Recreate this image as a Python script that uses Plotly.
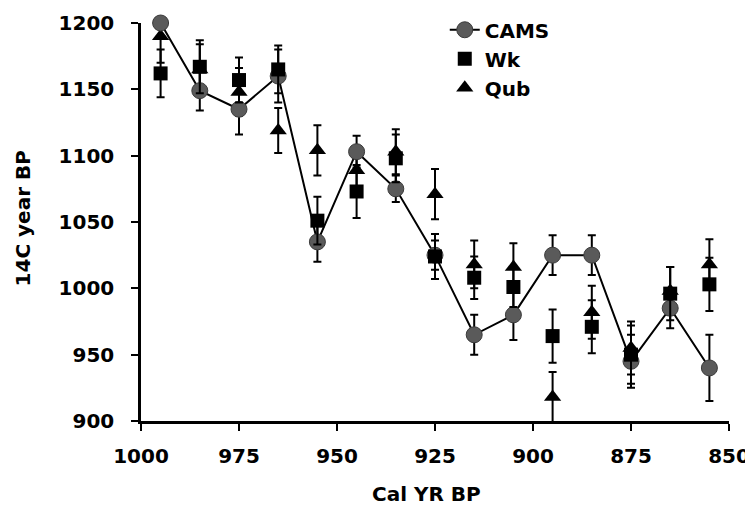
import plotly.graph_objects as go

# Data
cal_yr = [995, 985, 975, 965, 955, 945, 935, 925, 915, 905, 895, 885, 875, 865, 855]
cams = [1200, 1149, 1135, 1160, 1035, 1103, 1075, 1025, 965, 980, 1025, 1025, 945, 985, 940]
cams_err = [10, 15, 19, 20, 15, 12, 10, 11, 15, 19, 15, 15, 20, 15, 25]
wk = [1162, 1167, 1157, 1165, 1051, 1073, 1098, 1024, 1008, 1001, 964, 971, 950, 996, 1003]
wk_err = [18, 20, 17, 18, 18, 20, 18, 17, 16, 15, 20, 20, 22, 20, 20]
qub = [1190, 1165, 1148, 1119, 1104, 1089, 1103, 1071, 1018, 1016, 918, 982, 955, 998, 1018]
qub_err = [20, 19, 18, 17, 19, 15, 17, 19, 18, 18, 19, 20, 20, 18, 19]

x_ticks = [1000, 975, 950, 925, 900, 875, 850]
y_ticks = [900, 950, 1000, 1050, 1100, 1150, 1200]
Y_MIN, Y_MAX = 900, 1200

FONT = "Verdana, DejaVu Sans, sans-serif"
FS = 20


def up(vals, errs):
    # error bars are cut at the top of the plot area (as in the original)
    return [min(e, Y_MAX - v) for v, e in zip(vals, errs)]


def err(vals, errs, color="black"):
    return dict(type="data", symmetric=False, array=up(vals, errs), arrayminus=errs,
                color=color, thickness=2, width=4)


fig = go.Figure()
fig.add_trace(go.Scatter(
    x=cal_yr, y=qub, name="Qub", mode="markers", legendrank=3,
    marker=dict(symbol="triangle-up", size=15, color="black"),
    error_y=err(qub, qub_err), cliponaxis=False))
fig.add_trace(go.Scatter(
    x=cal_yr, y=cams, name="CAMS", mode="lines+markers", legendrank=1,
    line=dict(color="black", width=2),
    marker=dict(symbol="circle", size=16, color="#5a5a5a", line=dict(color="#3a3a3a", width=1)),
    error_y=err(cams, cams_err), cliponaxis=False))
fig.add_trace(go.Scatter(
    x=cal_yr, y=wk, name="Wk", mode="markers", legendrank=2,
    marker=dict(symbol="square", size=14, color="black"),
    error_y=err(wk, wk_err), cliponaxis=False))

axis_common = dict(showgrid=False, zeroline=False, showline=True, linecolor="black", linewidth=2.5,
                   ticks="outside", ticklen=7, tickwidth=2, tickcolor="black", automargin=False,
                   tickfont=dict(family=FONT, size=FS, color="black", weight="bold"))

fig.update_xaxes(range=[1000, 850], tickvals=x_ticks, ticklabelstandoff=8, **axis_common)
fig.update_yaxes(range=[Y_MIN, Y_MAX], tickvals=y_ticks, ticklabelstandoff=13, **axis_common)

fig.update_layout(
    width=745, height=499,
    margin=dict(l=133, r=23.5, t=14.5, b=85.5, autoexpand=False),
    paper_bgcolor="white", plot_bgcolor="white",
    showlegend=True,
    legend=dict(x=0.5166, y=1.032, xanchor="left", yanchor="top", bgcolor="rgba(0,0,0,0)",
                font=dict(family=FONT, size=FS, color="black", weight="bold"),
                tracegroupgap=0, itemwidth=30),
    annotations=[
        dict(text="14C year BP", xref="paper", yref="paper", x=-0.2, y=0.51,
             textangle=-90, showarrow=False, xanchor="center", yanchor="middle",
             font=dict(family=FONT, size=FS, color="black", weight="bold")),
        dict(text="Cal YR BP", xref="paper", yref="paper", x=0.486, y=-0.184,
             showarrow=False, xanchor="center", yanchor="middle",
             font=dict(family=FONT, size=FS, color="black", weight="bold")),
    ],
)

fig.write_html("out.html")
